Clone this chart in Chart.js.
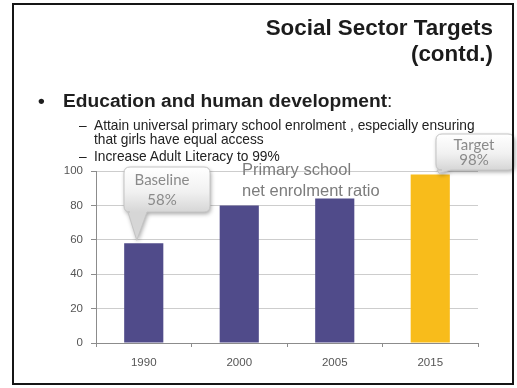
<!DOCTYPE html>
<html>
<head>
<meta charset="utf-8">
<script src="https://cdn.jsdelivr.net/npm/chart.js@4/dist/chart.umd.min.js"></script>
<style>
  html, body { margin: 0; padding: 0; background: #fff; }
  #slide { position: relative; width: 517px; height: 388px; overflow: hidden; background: #fff; font-family: "Liberation Sans", Arial, sans-serif; }
  #frame { position: absolute; left: 12px; top: 3px; width: 498px; height: 378px; border: 2px solid #151515; }
  #chart { position: absolute; left: 0; top: 0; }
  .t { position: absolute; white-space: nowrap; line-height: 1; }
  .title { right: 24px; font-size: 22.4px; font-weight: bold; color: #1b1b1b; }
  .lvl1 { font-size: 19.2px; font-weight: bold; color: #1e1e1e; }
  .lvl2 { font-size: 13.75px; color: #222; }
  .note { font-size: 16.5px; color: #7c7c7c; }
</style>
</head>
<body>
<div id="slide">
  <canvas id="chart" width="517" height="388"></canvas>
  <div id="frame"></div>
  <div class="t title" style="top:17px">Social Sector Targets</div>
  <div class="t title" style="top:43px">(contd.)</div>
  <div class="t lvl1" style="left:38px; top:91px">•</div>
  <div class="t lvl1" style="left:63px; top:91px">Education and human development<span style="font-weight:normal">:</span></div>
  <div class="t lvl2" style="left:79px; top:119px">–</div>
  <div class="t lvl2" style="left:94px; top:119px">Attain universal primary school enrolment , especially ensuring</div>
  <div class="t lvl2" style="left:94px; top:133px">that girls have equal access</div>
  <div class="t lvl2" style="left:79px; top:150px">–</div>
  <div class="t lvl2" style="left:94px; top:150px">Increase Adult Literacy to 99%</div>
  <div class="t note" style="left:242px; top:161px">Primary school</div>
  <div class="t note" style="left:242px; top:182px">net enrolment ratio</div>
</div>
<script>
// Primary school net enrolment ratio (%)
const years = ['1990', '2000', '2005', '2015'];
const enrolment = [58, 80, 84, 98];
const yTicks = [0, 20, 40, 60, 80, 100];

// Callout captions attached to particular years
const calloutYears = ['1990', '2015'];
const calloutCaptions = ['Baseline', 'Target'];

const PURPLE = '#504b8a';
const GOLD = '#f8bc1b';
const barColors = years.map((y, i) => i === years.length - 1 ? GOLD : PURPLE);

// Box geometry for each callout, plus the offset of its pointer tip from the bar top
const calloutBoxes = [
  { x: 124, y: 167, w: 86, h: 45, wedgeL: 128, wedgeR: 147, dx: -7, dy: -3 },
  { x: 436, y: 134, w: 78, h: 36, wedgeL: 437, wedgeR: 451, dx: 9, dy: -1 }
];

function roundedCallout(ctx, b, tipX, tipY) {
  const r = 6;
  const x0 = b.x, y0 = b.y, x1 = b.x + b.w, y1 = b.y + b.h;
  ctx.beginPath();
  ctx.moveTo(x0 + r, y0);
  ctx.lineTo(x1 - r, y0);
  ctx.quadraticCurveTo(x1, y0, x1, y0 + r);
  ctx.lineTo(x1, y1 - r);
  ctx.quadraticCurveTo(x1, y1, x1 - r, y1);
  ctx.lineTo(b.wedgeR, y1);
  ctx.lineTo(tipX, tipY);
  ctx.lineTo(b.wedgeL, y1);
  ctx.lineTo(x0 + r, y1);
  ctx.quadraticCurveTo(x0, y1, x0, y1 - r);
  ctx.lineTo(x0, y0 + r);
  ctx.quadraticCurveTo(x0, y0, x0 + r, y0);
  ctx.closePath();
}

const calloutPlugin = {
  id: 'callouts',
  afterDatasetsDraw(chart) {
    const ctx = chart.ctx;
    const meta = chart.getDatasetMeta(0);
    calloutYears.forEach((yr, k) => {
      const idx = years.indexOf(yr);
      const bar = meta.data[idx];
      const b = calloutBoxes[k];
      const tipX = bar.x + b.dx;
      const tipY = bar.y + b.dy;
      ctx.save();
      roundedCallout(ctx, b, tipX, tipY);
      const g = ctx.createLinearGradient(0, b.y, 0, b.y + b.h);
      g.addColorStop(0, '#ffffff');
      g.addColorStop(0.55, '#f1f1f1');
      g.addColorStop(1, '#d6d6d6');
      ctx.shadowColor = 'rgba(0,0,0,0.35)';
      ctx.shadowBlur = 4;
      ctx.shadowOffsetX = 1;
      ctx.shadowOffsetY = 2;
      ctx.fillStyle = g;
      ctx.fill();
      ctx.shadowColor = 'transparent';
      ctx.strokeStyle = '#c4c4c4';
      ctx.lineWidth = 1;
      ctx.stroke();
      ctx.fillStyle = '#8a8a8a';
      ctx.font = '15px Lato, "Open Sans", sans-serif';
      ctx.textAlign = 'center';
      ctx.textBaseline = 'middle';
      const cx = b.x + Math.min(b.w, 76) / 2;
      ctx.fillText(calloutCaptions[k], cx, b.y + b.h * 0.3);
      ctx.fillText(enrolment[idx] + '%', cx, b.y + b.h * 0.74);
      ctx.restore();
    });
  }
};

new Chart(document.getElementById('chart'), {
  type: 'bar',
  data: {
    labels: years,
    datasets: [{
      data: enrolment,
      backgroundColor: barColors,
      borderWidth: 0,
      categoryPercentage: 1,
      barPercentage: 0.41
    }]
  },
  options: {
    responsive: false,
    animation: false,
    events: [],
    layout: { padding: { left: 0, top: 171, right: 39, bottom: 0 } },
    plugins: { legend: { display: false }, tooltip: { enabled: false } },
    scales: {
      x: {
        grid: { offset: true, drawOnChartArea: false, drawTicks: true, tickLength: 4, tickColor: '#8c8c8c' },
        border: { color: '#8c8c8c', width: 1 },
        ticks: { color: '#555', font: { family: '"Liberation Sans", Arial, sans-serif', size: 11.5 }, padding: 9 },
        afterFit(scale) { scale.height = 45; }
      },
      y: {
        min: yTicks[0],
        max: yTicks[yTicks.length - 1],
        afterBuildTicks(scale) { scale.ticks = yTicks.map(v => ({ value: v })); },
        grid: { color: '#cdcdcd', tickLength: 5, tickColor: '#8c8c8c' },
        border: { color: '#8c8c8c', width: 1 },
        ticks: { color: '#555', font: { family: '"Liberation Sans", Arial, sans-serif', size: 11.5 }, padding: 8 },
        afterFit(scale) { scale.width = 96; }
      }
    }
  },
  plugins: [calloutPlugin]
});
</script>
</body>
</html>
